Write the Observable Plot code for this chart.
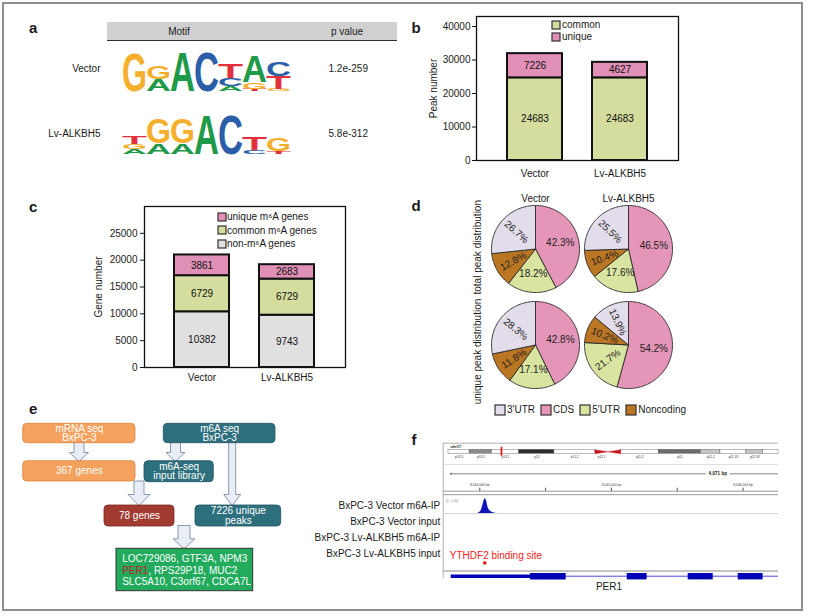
<!DOCTYPE html>
<html>
<head>
<meta charset="utf-8">
<script src="https://cdn.jsdelivr.net/npm/d3@7"></script>
<script src="https://cdn.jsdelivr.net/npm/@observablehq/plot@0.6"></script>
<style>
html,body{margin:0;padding:0;background:#fff;}
#fig{position:relative;width:813px;height:616px;overflow:hidden;background:#fff;font-family:"Liberation Sans",Arial,Helvetica,sans-serif;color:#1a1a1a;}
#border{position:absolute;left:2px;top:2px;width:801px;height:609px;border:2px solid #8f8f8f;box-sizing:border-box;}
.plab{position:absolute;font-weight:bold;font-size:15px;line-height:15px;}
#hdr{position:absolute;left:107px;top:22px;width:290px;height:18px;background:#d0d0d0;border-bottom:1.5px solid #333;font-size:10px;}
#hdr span{position:absolute;top:4px;transform:translateX(-50%);white-space:nowrap;}
.lg{position:absolute;}
.lg > div{margin:0 !important;min-height:0 !important;font-family:"Liberation Sans",Arial,sans-serif !important;font-size:10px !important;color:#1a1a1a !important;}
.lg svg{margin-right:2px !important;overflow:visible !important;}
.lg svg rect{stroke:#333;stroke-width:1.2px;}
#lgb > div > div{line-height:12px;padding-bottom:0 !important;}
#lgc > div > div{line-height:13.5px;padding-bottom:0 !important;}
#lgc svg{margin-right:1px !important;}
#lgd > div{line-height:13px;}
#lgd > div > span{margin-right:6px !important;}
</style>
</head>
<body>
<div id="fig"><div id="border"></div></div>
<script>
// ---------------- DATA ----------------
// panel a
const motifSamples = ["Vector", "Lv-ALKBH5"];
const motifPValues = ["1.2e-259", "5.8e-312"];
const motifHeader = ["Motif", "p value"];
const logoPositions = [1, 2, 3, 4, 5, 6, 7];
// letters per position, bottom to top: [letter, bits]
const logoVector = [
  [["G", 1.95]],
  [["A", 0.6], ["G", 0.65]],
  [["A", 2.0]],
  [["C", 2.0]],
  [["A", 0.25], ["C", 0.4], ["T", 0.7]],
  [["T", 0.1], ["G", 0.35], ["A", 1.35]],
  [["G", 0.1], ["T", 0.65], ["C", 0.7]]
];
const logoLv = [
  [["A", 0.25], ["G", 0.25], ["T", 0.4]],
  [["A", 0.55], ["G", 1.25]],
  [["A", 0.55], ["G", 1.25]],
  [["A", 2.0]],
  [["C", 2.0]],
  [["C", 0.2], ["T", 0.65]],
  [["T", 0.15], ["G", 0.65]]
];
const nucleotides = ["A", "C", "G", "T"];
const nucleotideColors = ["#1f9a48", "#2a5ea8", "#f6ae2d", "#e2313b"];

// panel b
const peakSamples = ["Vector", "Lv-ALKBH5"];
const peakTypes = ["common", "unique"];
const peakCommon = [24683, 24683];
const peakUnique = [7226, 4627];
const peakTicks = [0, 10000, 20000, 30000, 40000];
const peakColors = ["#d4dd9d", "#e090b6"];

// panel c
const geneSamples = ["Vector", "Lv-ALKBH5"];
const geneTypes = ["non-m\u2076A genes", "common m\u2076A genes", "unique m\u2076A genes"];
const geneNon = [10382, 9743];
const geneCommon = [6729, 6729];
const geneUnique = [3861, 2683];
const geneTicks = [0, 5000, 10000, 15000, 20000, 25000];
const geneColors = ["#e0e0e0", "#d4dd9d", "#e090b6"];

// panel d (slices clockwise from 12 o'clock: CDS, 5'UTR, Noncoding, 3'UTR)
const pieSamples = ["Vector", "Lv-ALKBH5"];
const pieGroups = ["total peak distribution", "unique peak distribution"];
const pieRegions = ["CDS", "5'UTR", "Noncoding", "3'UTR"];
const totalVector = [42.3, 18.2, 12.8, 26.7];
const totalLv = [46.5, 17.6, 10.4, 25.5];
const uniqueVector = [42.8, 17.1, 11.8, 28.3];
const uniqueLv = [54.2, 21.7, 10.2, 13.9];
const legendRegions = ["3'UTR", "CDS", "5'UTR", "Noncoding"];
const regionColors = ["#e3dcea", "#e596b8", "#d9e4a1", "#bb7624"];

// panel e
const flowLabels = ["mRNA seq\nBxPC-3", "m6A seq\nBxPC-3", "367 genes", "m6A-seq\ninput library", "78 genes", "7226 unique\npeaks"];
const flowKinds = ["mRNA", "m6A", "mRNA", "m6A", "overlap", "m6A"];
const flowKindNames = ["mRNA", "m6A", "overlap"];
const flowKindColors = ["#f5a25e", "#2d6f7d", "#a13a31"];
const flowKindStrokes = ["#d9833f", "#1f5361", "#7a2a22"];
const resultLines = ["LOC729086, GTF3A, NPM3", "PER1, RPS29P18, MUC2", "SLC5A10, C3orf67, CDCA7L"];
const highlightGene = "PER1";

// panel f
const trackNames = ["BxPC-3 Vector m6A-IP", "BxPC-3 Vector input", "BxPC-3 Lv-ALKBH5 m6A-IP", "BxPC-3 Lv-ALKBH5 input"];
const trackRangeLabel = "[0 - 1.00]";
const peakCoverage = [[8043985, 0], [8044000, 0.08], [8044012, 0.22], [8044022, 0.5], [8044032, 0.85], [8044042, 1.0], [8044052, 0.82], [8044062, 0.42], [8044074, 0.22], [8044090, 0.1], [8044108, 0.04], [8044125, 0]];
const geneName = "PER1";
const perUTR = [[8043783, 8044385]];
const perExons = [[8044385, 8044656], [8045120, 8045271], [8045583, 8045773], [8045963, 8046152]];
const bindingSite = [8044038];
const bindingLabel = "YTHDF2 binding site";
const viewSpanLabel = "4,071 bp";
const viewTicks = [8044000, 8044500, 8045000, 8045500, 8046000];
const chrName = "chr17";
const chr17Bands = ["p13.3", "p13.2", "p13.1", "p12", "p11.2", "p11.1", "q11.1", "q11.2", "q12", "q21.2", "q21.31", "q21.33", "q22"];
const chr17BandStart = [0, 5.2, 10.7, 17.4, 26.1, 36.1, 39.3, 42.4, 51.8, 62.2, 67.0, 73.4, 77.5];
const chr17BandEnd = [5.2, 10.7, 17.4, 26.1, 36.1, 39.3, 42.4, 51.8, 62.2, 67.0, 73.4, 77.5, 81.3];
const chr17BandStain = ["gneg", "gpos50", "gneg", "gpos100", "gneg", "acen", "acen", "gneg", "gpos75", "gpos25", "gneg", "gpos25", "gneg"];
const stainNames = ["gneg", "gpos25", "gpos50", "gpos75", "gpos100", "acen"];
const stainColors = ["#ffffff", "#c4c4c4", "#8a8a8a", "#6c6c6c", "#2e2e2e", "#c8161e"];
const viewLocusMb = [13.05];

// ---------------- HELPERS ----------------
const FONT = '"Liberation Sans", Arial, Helvetica, sans-serif';
const fig = document.getElementById("fig");
const baseStyle = {background: "transparent", overflow: "visible", fontFamily: FONT, fontSize: "10px", color: "#1a1a1a"};
function place(node, left, top, id) {
  node.style.position = "absolute";
  node.style.left = left + "px";
  node.style.top = top + "px";
  if (id) node.id = id;
  fig.appendChild(node);
  return node;
}
function legendBox(domain, range, opts) {
  const wrap = document.createElement("div");
  wrap.className = "lg";
  const o = {color: {type: "ordinal", domain, range}, swatchSize: opts.size};
  if (opts.columns) o.columns = opts.columns;
  wrap.appendChild(Plot.legend(o));
  return wrap;
}

// panel letters
const panelLetters = ["a", "b", "c", "d", "e", "f"];
const panelLetterPos = [[29, 19.5], [411.5, 20], [29, 199], [411.5, 198], [29, 400.5], [411.5, 431.6]];
panelLetters.forEach((l, i) => {
  const s = document.createElement("div");
  s.className = "plab"; s.textContent = l;
  place(s, panelLetterPos[i][0], panelLetterPos[i][1]);
});

// ---------------- PANEL A ----------------
try {
  const hdr = document.createElement("div"); hdr.id = "hdr";
  hdr.innerHTML = `<span style="left:72px">${motifHeader[0]}</span><span style="left:240px">${motifHeader[1]}</span>`;
  fig.appendChild(hdr);

  const aPlot = Plot.plot({
    width: 390, height: 150, margin: 0, style: baseStyle,
    y: {type: "point", domain: motifSamples, range: [48.3, 113.3], padding: 0, axis: null},
    marks: [
      Plot.text(motifSamples, {y: d => d, frameAnchor: "left", dx: 80, textAnchor: "end", fill: "#1a1a1a"}),
      Plot.text(motifSamples, {y: d => d, text: (d, i) => motifPValues[i], frameAnchor: "left", dx: 308, textAnchor: "start", fill: "#1a1a1a"})
    ]
  });
  place(aPlot, 20, 20);

  function logoPlot(columns) {
    const rows = [];
    columns.forEach((col, i) => {
      let base = 0;
      col.forEach(([letter, bits]) => { rows.push({pos: logoPositions[i], letter, bits, base}); base += bits; });
    });
    const p = Plot.plot({
      width: 182, height: 50, marginLeft: 5, marginRight: 5, marginTop: 5, marginBottom: 5,
      style: baseStyle,
      x: {type: "band", domain: logoPositions, padding: 0.02, axis: null},
      y: {domain: [0, 2], axis: null},
      color: {domain: nucleotides, range: nucleotideColors},
      marks: [Plot.text(rows, {x: "pos", y: "base", text: "letter", fill: "letter", lineAnchor: "bottom", fontWeight: "bold", fontSize: 10})]
    });
    const xs = p.scale("x"), ys = p.scale("y");
    const bw = xs.bandwidth;
    p.querySelectorAll('g[aria-label="text"] text').forEach((t, i) => {
      const d = rows[i];
      const h = ys.apply(d.base) - ys.apply(d.base + d.bits);
      t.style.fontSize = (h / 0.72) + "px";
      t.setAttribute("textLength", bw * 1.04);
      t.setAttribute("lengthAdjust", "spacingAndGlyphs");
    });
    return p;
  }
  place(logoPlot(logoVector), 115, 45);
  place(logoPlot(logoLv), 115, 108);
} catch (e) { console.error(e); }

// ---------------- PANEL B / C ----------------
function stackedPanel(cfg) {
  const rows = [];
  cfg.samples.forEach((s, i) => cfg.series.forEach((vals, k) => rows.push({sample: s, type: cfg.types[k], value: vals[i]})));
  return Plot.plot({
    width: cfg.width, height: cfg.height,
    marginLeft: cfg.ml, marginRight: cfg.mr, marginTop: cfg.mt, marginBottom: cfg.mb,
    style: baseStyle,
    x: {domain: cfg.samples, padding: 0.35},
    y: {domain: cfg.ydomain},
    color: {domain: cfg.types, range: cfg.colors},
    marks: [
      Plot.barY(rows, Plot.stackY({x: "sample", y: "value", fill: "type", stroke: "#111", strokeWidth: 2})),
      Plot.text(rows, Plot.stackY({x: "sample", y: "value", z: "type", text: d => String(d.value), fill: "#111"})),
      Plot.frame({stroke: "#111", strokeWidth: 1.3}),
      Plot.axisY({ticks: cfg.ticks, tickFormat: d => String(d), tickSize: 4, tickPadding: cfg.tp, label: null, stroke: "#111"}),
      Plot.axisX({tickSize: 0, tickPadding: cfg.xtp, label: null}),
      Plot.text([cfg.ylabel], {frameAnchor: "left", textAnchor: "middle", rotate: -90, dx: cfg.ylabelDx, fill: "#1a1a1a"})
    ]
  });
}
try {
  place(stackedPanel({
    samples: peakSamples, types: peakTypes, series: [peakCommon, peakUnique], colors: peakColors,
    width: 300, height: 180, ml: 76, mr: 22, mt: 6, mb: 30, ydomain: [0, 43000], ticks: peakTicks,
    tp: 2, xtp: 9, ylabel: "Peak number", ylabelDx: -43
  }), 400, 10);
  place(legendBox(peakTypes, peakColors, {size: 8, columns: 1}), 552, 19, "lgb");
} catch (e) { console.error(e); }
try {
  place(stackedPanel({
    samples: geneSamples, types: geneTypes, series: [geneNon, geneCommon, geneUnique], colors: geneColors,
    width: 300, height: 190, ml: 84, mr: 15, mt: 6, mb: 23, ydomain: [0, 30000], ticks: geneTicks,
    tp: 3, xtp: 6, ylabel: "Gene number", ylabelDx: -46
  }), 60, 200);
  place(legendBox(geneTypes.slice().reverse(), geneColors.slice().reverse(), {size: 8, columns: 1}), 218, 210, "lgc");
} catch (e) { console.error(e); }

// ---------------- PANEL D ----------------
try {
  const pies = [
    {sample: pieSamples[0], group: pieGroups[0], values: totalVector},
    {sample: pieSamples[1], group: pieGroups[0], values: totalLv},
    {sample: pieSamples[0], group: pieGroups[1], values: uniqueVector},
    {sample: pieSamples[1], group: pieGroups[1], values: uniqueLv}
  ];
  const wedgePts = [], wedgeLabels = [];
  pies.forEach((p, pi) => {
    let acc = 0;
    p.values.forEach((v, k) => {
      const a0 = acc / 100 * 2 * Math.PI, a1 = (acc + v) / 100 * 2 * Math.PI;
      acc += v;
      const id = pi + "-" + k, region = pieRegions[k];
      const base = {id, region, sample: p.sample, group: p.group};
      const n = Math.max(2, Math.ceil((a1 - a0) / 0.03));
      wedgePts.push({...base, x: 0, y: 0});
      for (let j = 0; j <= n; j++) {
        const a = a0 + (a1 - a0) * j / n;
        wedgePts.push({...base, x: Math.sin(a), y: Math.cos(a)});
      }
      wedgePts.push({...base, x: 0, y: 0});
      const am = (a0 + a1) / 2, deg = am * 180 / Math.PI;
      wedgeLabels.push({sample: p.sample, group: p.group, text: v.toFixed(1) + "%",
        x: 0.58 * Math.sin(am), y: 0.58 * Math.cos(am), rotate: deg > 225 ? deg - 270 : 0});
    });
  });
  const dPlot = Plot.plot({
    width: 212, height: 209, marginLeft: 20, marginRight: 10, marginTop: 19, marginBottom: 5,
    style: baseStyle,
    fx: {domain: pieSamples, paddingInner: 0.058, paddingOuter: 0, label: null, axis: "top", tickSize: 0, tickPadding: 4},
    fy: {domain: pieGroups, paddingInner: 0.09, paddingOuter: 0, axis: null, label: null},
    x: {domain: [-1, 1], axis: null},
    y: {domain: [-1, 1], axis: null},
    color: {domain: legendRegions, range: regionColors},
    marks: [
      Plot.line(wedgePts, {x: "x", y: "y", z: "id", fill: "region", stroke: "#2a2a2a", strokeWidth: 0.9, strokeLinejoin: "round", fx: "sample", fy: "group"}),
      Plot.text(wedgeLabels, {x: "x", y: "y", text: "text", rotate: "rotate", fx: "sample", fy: "group", fill: "#222"}),
      Plot.text(pieGroups, {fy: d => d, fx: () => pieSamples[0], y: d => d === pieGroups[0] ? 0.04 : -0.15,
        frameAnchor: "left", textAnchor: "middle", rotate: -90, dx: -13.6, fill: "#1a1a1a"})
    ]
  });
  place(dPlot, 470, 185);
  place(legendBox(legendRegions, regionColors, {size: 10}), 495, 403, "lgd");
} catch (e) { console.error(e); }

// ---------------- PANEL E ----------------
try {
  // layout of the diagram (figure pixel coordinates)
  const boxLayout = [[22.7, 135, 423.3, 442.7], [163.3, 275, 423.3, 442.7], [22.7, 135, 460.7, 481], [144, 213.3, 460.7, 481.7], [104, 174, 505, 526], [195, 280.7, 505, 526]];
  const resultBoxLayout = [116, 252.7, 548.3, 590.7];
  const arrowLayout = [[78.5, 441, 461, 10, 19, 9], [175, 441, 461, 10, 19, 9], [231.7, 441, 505, 7, 17, 11], [138.5, 480.5, 505, 10, 22, 11], [183.5, 525, 548.3, 12, 22, 10]];
  const resultTextLeft = 121.7, resultLineY = [558.3, 569.8, 581.7];

  const boxes = flowLabels.map((label, i) => ({label, kind: flowKinds[i], x1: boxLayout[i][0], x2: boxLayout[i][1], y1: boxLayout[i][2], y2: boxLayout[i][3]}));
  const arrowPts = [];
  arrowLayout.forEach(([x, y1, y2, shaft, head, hl], id) => {
    const hs = shaft / 2, hh = head / 2, yh = y2 - hl;
    [[x - hs, y1], [x + hs, y1], [x + hs, yh], [x + hh, yh], [x, y2], [x - hh, yh], [x - hs, yh], [x - hs, y1]]
      .forEach(([px, py]) => arrowPts.push({id, x: px, y: py}));
  });
  const lines = resultLines.map((t, i) => ({t, y: resultLineY[i]}));
  const ePlot = Plot.plot({
    width: 275, height: 185, margin: 0, style: baseStyle,
    x: {domain: [15, 290], axis: null},
    y: {domain: [415, 600], range: [0, 185], axis: null},
    color: {domain: flowKindNames, range: flowKindColors},
    marks: [
      Plot.line(arrowPts, {x: "x", y: "y", z: "id", fill: "#e8edf6", stroke: "#7d8fa8", strokeWidth: 0.9}),
      Plot.rect(boxes, {x1: "x1", x2: "x2", y1: "y1", y2: "y2", fill: "kind", rx: 4, stroke: d => flowKindStrokes[flowKindNames.indexOf(d.kind)], strokeWidth: 0.8}),
      Plot.text(boxes, {x: d => (d.x1 + d.x2) / 2, y: d => (d.y1 + d.y2) / 2, text: "label", fill: "#fff", lineHeight: 0.95}),
      Plot.rect([resultBoxLayout], {x1: d => d[0], x2: d => d[1], y1: d => d[2], y2: d => d[3], fill: "#22ab5d", stroke: "#333", strokeWidth: 1}),
      Plot.text(lines, {x: () => resultTextLeft, y: "y", text: "t", textAnchor: "start", fill: "#fff"})
    ]
  });
  ePlot.querySelectorAll('g[aria-label="text"] text').forEach(t => {
    if (t.textContent.startsWith(highlightGene)) {
      const rest = t.textContent.slice(highlightGene.length);
      t.textContent = "";
      const ns = "http://www.w3.org/2000/svg";
      const s1 = document.createElementNS(ns, "tspan"); s1.setAttribute("fill", "#c8202a"); s1.textContent = highlightGene;
      const s2 = document.createElementNS(ns, "tspan"); s2.textContent = rest;
      t.appendChild(s1); t.appendChild(s2);
    }
  });
  place(ePlot, 15, 415);
} catch (e) { console.error(e); }

// ---------------- PANEL F ----------------
try {
  const xDomain = [8043722, 8046269];
  // ideogram
  const bands = chr17Bands.map((name, i) => ({name, start: chr17BandStart[i], end: chr17BandEnd[i], stain: chr17BandStain[i]}));
  const cenPts = [];
  bands.filter(b => b.stain === "acen").forEach((b, k) => {
    const wide = k === 0 ? b.start : b.end, tip = k === 0 ? b.end : b.start;
    [[wide, 1], [wide, 0], [tip, 0.5], [wide, 1]].forEach(([x, y]) => cenPts.push({id: k, x, y}));
  });
  const ideo = Plot.plot({
    width: 485, height: 20, marginLeft: 148, marginRight: 7, marginTop: 9.3, marginBottom: 6.7,
    style: baseStyle,
    x: {domain: [0, 81.3], axis: null},
    y: {domain: [0, 1], axis: null},
    color: {domain: stainNames, range: stainColors},
    marks: [
      Plot.rect(bands.filter(b => b.stain !== "acen"), {x1: "start", x2: "end", y1: 0, y2: 1, fill: "stain", stroke: "#555", strokeWidth: 0.4}),
      Plot.line(cenPts, {x: "x", y: "y", z: "id", fill: "#c8161e", stroke: "#c8161e", strokeWidth: 0.4}),
      Plot.ruleX(viewLocusMb, {y1: -0.6, y2: 1.6, stroke: "#ff0000", strokeWidth: 1.6}),
      Plot.text(bands.filter(b => b.name !== "q11.1" && b.name !== "q22"), {x: d => (d.start + d.end) / 2, y: 0, dy: 3.5, text: "name", fontSize: 3.2, fill: "#333"}),
      Plot.text([chrName], {frameAnchor: "top-left", dx: 2, dy: -4.6, fontSize: 4, fontWeight: "bold", textAnchor: "start"})
    ]
  });

  // chrome, ruler and gene model (y in figure pixels)
  const gx = (a, b) => ({x1: a, x2: b});
  const igv = Plot.plot({
    width: 485, height: 152, marginLeft: 142.7, marginRight: 7, marginTop: 50, marginBottom: 0,
    style: baseStyle,
    x: {domain: xDomain, axis: null},
    y: {domain: [490, 592], range: [50, 152], axis: null},
    marks: [
      Plot.ruleY([442.7], {stroke: "#b0b0b0", strokeWidth: 1}),
      Plot.ruleY([464], {stroke: "#e0e0e0", strokeWidth: 1}),
      Plot.ruleY([490.7, 494.2], {stroke: "#8c8c8c", strokeWidth: 0.9}),
      Plot.ruleX([xDomain[0]], {y1: 442.7, y2: 578.5, stroke: "#b0b0b0", strokeWidth: 1}),
      Plot.ruleY([570.5], {stroke: "#c4c4c4", strokeWidth: 2.2}),
      Plot.arrow([viewSpanLabel], {x1: () => 8045713, x2: () => 8043777, y1: () => 473.3, y2: () => 473.3, headLength: 3, stroke: "#333", strokeWidth: 0.6}),
      Plot.ruleY([gx(8045903, xDomain[1])], {x1: "x1", x2: "x2", y: () => 473.3, stroke: "#333", strokeWidth: 0.6}),
      Plot.text([viewSpanLabel], {x: () => 8045808, y: () => 473.3, fontSize: 4.6, fontWeight: "bold", fill: "#222"}),
      Plot.axisX({anchor: "top", ticks: viewTicks, tickSize: 3.3, tickPadding: 1.3, fontSize: 3.4, stroke: "#555", fill: "#444",
        tickFormat: d => d % 1000 ? "" : d3.format(",")(d) + " bp", label: null}),
      Plot.text([bindingLabel], {frameAnchor: "left", dx: 6.6, y: () => 555, textAnchor: "start", fill: "#ff2020"}),
      Plot.dot(bindingSite, {x: d => d, y: () => 562.4, symbol: "square", r: 1.7, fill: "#ee0000"}),
      Plot.ruleY([gx(perExons[0][0], xDomain[1])], {x1: "x1", x2: "x2", y: () => 575.7, stroke: "#3535d8", strokeWidth: 0.9}),
      Plot.ruleY(perUTR, {x1: d => d[0], x2: d => d[1], y: () => 575.7, stroke: "#0000b4", strokeWidth: 3.4}),
      Plot.ruleY(perExons, {x1: d => d[0], x2: d => d[1], y: () => 575.7, stroke: "#0000b4", strokeWidth: 6.4}),
      Plot.text([geneName], {x: () => (perUTR[0][0] + xDomain[1]) / 2 - 45, y: () => 586, fill: "#1a1a1a"})
    ]
  });

  // coverage tracks
  const tracks = Plot.plot({
    width: 485, height: 66, marginLeft: 142.7, marginRight: 7, marginTop: 0, marginBottom: 0,
    style: baseStyle,
    fy: {domain: trackNames, padding: 0, axis: "left", tickSize: 0, tickPadding: 3, label: null},
    x: {domain: xDomain, axis: null},
    y: {domain: [0, 1.08], axis: null},
    marks: [
      Plot.areaY(peakCoverage, {x: d => d[0], y: d => d[1], fy: () => trackNames[0], fill: "#0c14b8", curve: "monotone-x"}),
      Plot.ruleY([0], {stroke: "#d4d4d4", strokeWidth: 1}),
      Plot.text([trackRangeLabel], {frameAnchor: "top-left", dx: 3, dy: 2.6, fontSize: 3, fill: "#777", textAnchor: "start"})
    ]
  });
  place(igv, 300, 440);
  place(ideo, 300, 440);
  place(tracks, 300, 496);
} catch (e) { console.error(e); }
</script>
</body>
</html>
